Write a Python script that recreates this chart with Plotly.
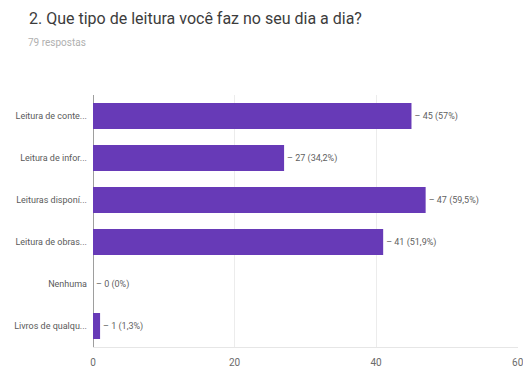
import plotly.graph_objects as go

categories = [
    "Leitura de conte...",
    "Leitura de infor...",
    "Leituras disponí...",
    "Leitura de obras...",
    "Nenhuma",
    "Livros de qualqu...",
]
counts = [45, 27, 47, 41, 0, 1]
percent_labels = ["57%", "34,2%", "59,5%", "51,9%", "0%", "1,3%"]
x_ticks = [0, 20, 40, 60]

FONT = "Roboto, Arial, sans-serif"
labels = [f"– {c} ({p})" for c, p in zip(counts, percent_labels)]

# plot area: 425 px wide starting at x=93, 252 px tall starting at y=95
PLOT_W, PLOT_H, LEFT = 425, 252, 93

fig = go.Figure(
    go.Bar(
        x=counts,
        y=categories,
        orientation="h",
        marker=dict(color="#673AB7", line=dict(width=0)),
        text=labels,
        textposition="outside",
        textfont=dict(family=FONT, size=9, color="#5f5f5f"),
        cliponaxis=False,
        width=0.62,
    )
)

fig.update_layout(
    width=523,
    height=372,
    margin=dict(l=LEFT, r=5, t=95, b=25),
    paper_bgcolor="white",
    plot_bgcolor="white",
    showlegend=False,
    font=dict(family=FONT, color="#5f5f5f"),
    annotations=[
        dict(
            text="2. Que tipo de leitura você faz no seu dia a dia?",
            xref="paper", yref="paper", x=(27 - LEFT) / PLOT_W, y=1 + 77 / PLOT_H,
            xanchor="left", yanchor="middle", showarrow=False,
            font=dict(family=FONT, size=16, color="#3c3c3c"),
        ),
        dict(
            text="79 respostas",
            xref="paper", yref="paper", x=(26 - LEFT) / PLOT_W, y=1 + 53 / PLOT_H,
            xanchor="left", yanchor="middle", showarrow=False,
            font=dict(family=FONT, size=10, color="#b0b0b0"),
        ),
    ],
)

fig.update_xaxes(
    range=[0, 60.05],
    automargin=False,
    tickvals=x_ticks,
    ticktext=[str(v) for v in x_ticks],
    showgrid=True,
    gridcolor="#ececec",
    gridwidth=1,
    zeroline=True,
    zerolinecolor="#9e9e9e",
    zerolinewidth=1,
    showline=True,
    linecolor="#e6e6e6",
    tickfont=dict(family=FONT, size=10, color="#6b6b6b"),
    ticks="",
    ticklabelstandoff=6,
    ticklabeloverflow="allow",
)

fig.update_yaxes(
    autorange="reversed",
    automargin=False,
    showgrid=False,
    zeroline=False,
    ticks="",
    ticklabelstandoff=5,
    tickfont=dict(family=FONT, size=9, color="#5a5a5a"),
)

fig.write_html("out.html")
